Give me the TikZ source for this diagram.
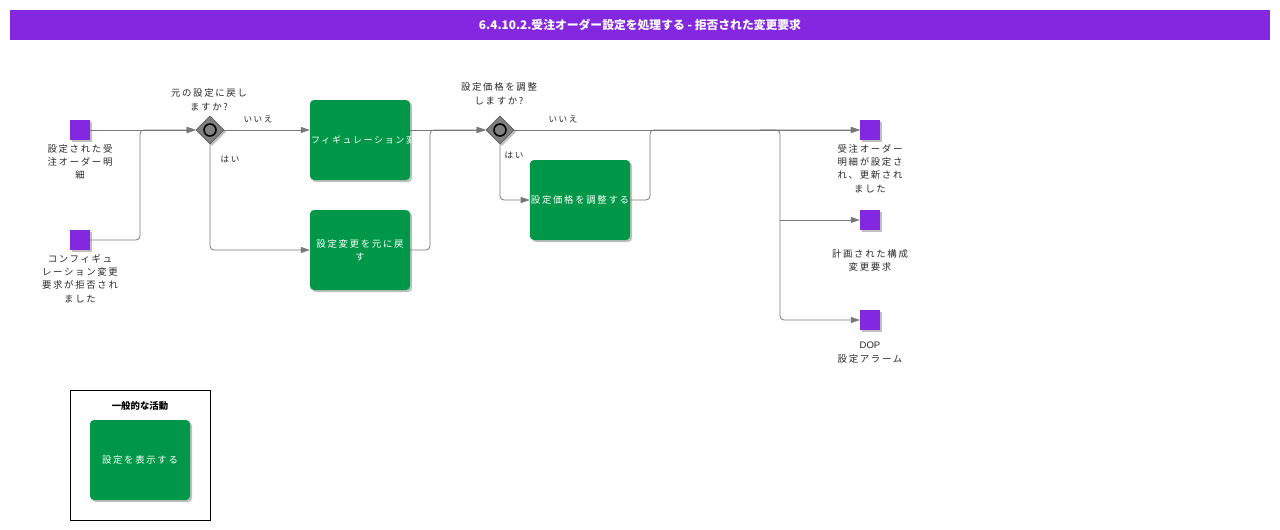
\documentclass[tikz,border=0pt]{standalone}
\usepackage{fontspec}
\setmainfont{Noto Sans CJK JP}
\newfontfamily\jp[LetterSpace=18]{Noto Sans CJK JP}
\newfontfamily\lat{Liberation Sans}
\usetikzlibrary{shapes.geometric,arrows.meta,shadows,calc}
\definecolor{hdr}{RGB}{132,39,224}
\definecolor{evt}{RGB}{132,39,224}
\definecolor{act}{RGB}{0,152,72}
\definecolor{ln}{RGB}{120,120,120}
\definecolor{gwfill}{RGB}{128,128,128}
\definecolor{txt}{RGB}{40,40,40}
\begin{document}
\begin{tikzpicture}[x=1pt,y=-1pt,
  shd/.style={drop shadow={shadow xshift=2pt,shadow yshift=-2pt,fill=black,opacity=0.25}},
  evtbox/.style={fill=evt,minimum size=20pt,inner sep=0pt,shd},
  actbox/.style={fill=act,rounded corners=4pt,minimum width=100pt,minimum height=80pt,inner sep=1pt,text=white,align=center,font=\jp\fontsize{9.4}{13}\selectfont,shd},
  gw/.style={diamond,fill=gwfill,draw=gwfill!70!black,line width=0.6pt,minimum width=28pt,minimum height=28pt,inner sep=0pt,shd},
  gwring/.style={circle,draw=black,line width=1.6pt,fill=gwfill,minimum size=12pt,inner sep=0pt},
  lbl/.style={align=center,text=txt,font=\jp\fontsize{9.4}{13.3}\selectfont,inner sep=0pt},
  elbl/.style={text=txt,font=\jp\fontsize{8.6}{10}\selectfont,inner sep=0pt},
  flow/.style={draw=ln,line width=0.8pt,-{Triangle[length=9pt,width=6pt,fill=ln]}},
  plain/.style={draw=ln,line width=0.8pt},
  rc/.style={rounded corners=4pt}]
\useasboundingbox (0,0) rectangle (1280,530);
\fill[white] (0,0) rectangle (1280,530);

% header
\node[fill=hdr,minimum width=1260pt,minimum height=30pt,inner sep=0pt,text=white,font=\bfseries\fontsize{11.8}{13}\selectfont] (hdr) at (640,25) {6.4.10.2.受注オーダー設定を処理する - 拒否された変更要求};

% start events
\node[evtbox] (e1) at (80,130) {};
\node[lbl,anchor=north] (e1l) at (80,144) {設定された受\\注オーダー明\\細};
\node[evtbox] (e2) at (80,240) {};
\node[lbl,anchor=north] (e2l) at (80,254) {コンフィギュ\\レーション変更\\要求が拒否され\\ました};

% gateway 1
\node[gw] (g1) at (210,130) {};
\node[gwring] (g1r) at (g1.center) {};
\node[lbl,anchor=south] (g1l) at (209,111) {元の設定に戻し\\ますか?};

% tasks
\node[actbox] (tA) at (360,140) {};
\begin{scope}
  \clip[rounded corners=4pt] (tA.north west) rectangle (tA.south east);
  \node[anchor=west,text=white,font=\jp\fontsize{9}{13}\selectfont,inner sep=1pt] (tAt) at (tA.west) {フィギュレーション変更};
\end{scope}
\node[actbox] (tB) at (360,250) {設定変更を元に戻\\す};

% gateway 2
\node[gw] (g2) at (500,130) {};
\node[gwring] (g2r) at (g2.center) {};
\node[lbl,anchor=south] (g2l) at (499,105) {設定価格を調整\\しますか?};

\node[actbox] (tC) at (580,200) {設定価格を調整する};

% end events
\node[evtbox] (n1) at (870,130) {};
\node[lbl,anchor=north] (n1l) at (870,144) {受注オーダー\\明細が設定さ\\れ、更新され\\ました};
\node[evtbox] (n2) at (870,220) {};
\node[lbl,anchor=north] (n2l) at (870,249) {計画された構成\\変更要求};
\node[evtbox] (n3) at (870,320) {};
\node[lbl,anchor=north] (n3l) at (870,342) {{\lat\fontsize{9.5}{13}\selectfont DOP}\\設定アラーム};

% junction coordinates
\coordinate (j1) at (140,130);
\coordinate (j2) at (430,130);
\coordinate (j3) at (650,130);
\coordinate (j4) at (760,130);
\coordinate (j5) at (780,320);

% connectors
\draw[flow] (e1.east) -- (g1.west);
\draw[flow,rc] (e2.east) -| (j1) -- (g1.west);
\draw[flow] (g1.east) -- (g1.east -| tA.west);
\draw[flow,rc] (g1.south) |- (tB.west);
\draw[flow] (tA.east |- g2.west) -- (g2.west);
\draw[flow,rc] (tB.east) -| (j2) -- (g2.west);
\draw[flow] (g2.east) -- (n1.west);
\draw[flow,rc] (g2.south) |- (tC.west);
\draw[flow,rc] (tC.east) -| (j3) -- (n1.west);
\draw[flow,rc] (j4) -| (j5) -- (n3.west);
\draw[flow] (j5 |- n2.west) -- (n2.west);

% edge labels
\node[elbl] (l1) at (258,119) {いいえ};
\node[elbl] (l2) at (230,159) {はい};
\node[elbl] (l3) at (563,119) {いいえ};
\node[elbl] (l4) at (514,155) {はい};

% legend
\node[draw=black,line width=0.8pt,minimum width=140pt,minimum height=130pt,inner sep=0pt,anchor=north west] (leg) at (70,390) {};
\node[font=\bfseries\fontsize{9.4}{11}\selectfont,text=black,inner sep=0pt] (legt) at (140,406) {一般的な活動};
\node[actbox] (legA) at (140,460) {設定を表示する};
\end{tikzpicture}
\end{document}
